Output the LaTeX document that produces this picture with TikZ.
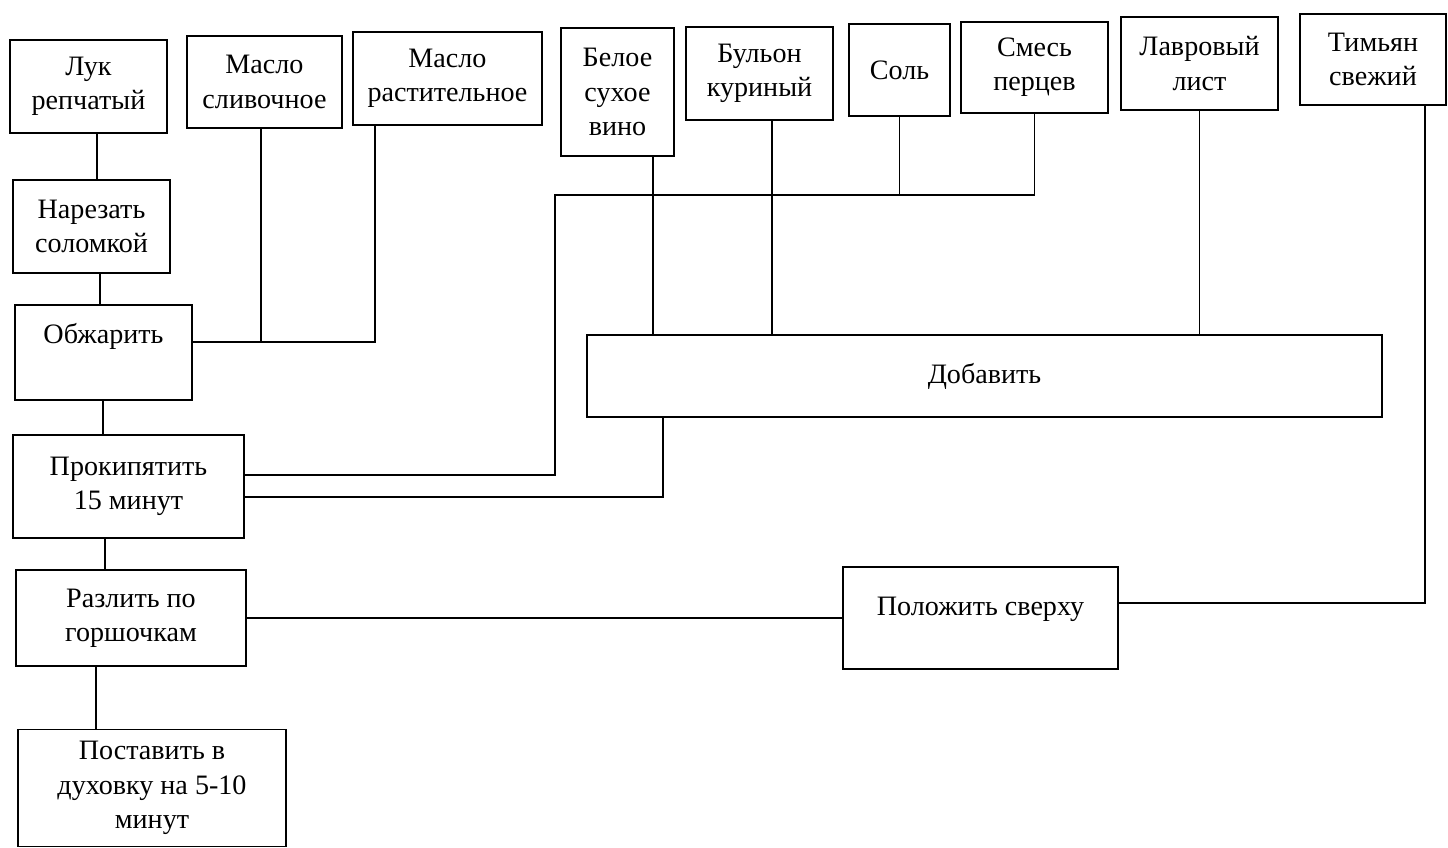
\documentclass[tikz,border=0pt]{standalone}
\usepackage{fontspec}
\setmainfont{Liberation Serif}
\begin{document}
\begin{tikzpicture}
[x=0.02cm, y=-0.02cm, line width=0.8pt, font=\fontsize{16}{19.5}\selectfont,
box/.style={rectangle, draw, align=center, inner sep=2pt}]

\useasboundingbox (0,0) rectangle (1448,848);

% ingredients
\node[box, minimum width=3.14cm, minimum height=1.86cm] (luk) at (88.5,86.5) {Лук\\репчатый};
\node[box, minimum width=3.10cm, minimum height=1.84cm] (maslo1) at (264.5,82) {Масло\\сливочное};
\node[box, minimum width=3.78cm, minimum height=1.86cm] (maslo2) at (447.5,78.5) {Масло\\растительное};
\node[box, minimum width=2.26cm, minimum height=2.56cm] (vino) at (617.5,92) {Белое\\сухое\\вино};
\node[box, minimum width=2.94cm, minimum height=1.86cm] (bulon) at (759.5,73.5) {Бульон\\куриный};
\node[box, minimum width=2.02cm, minimum height=1.84cm] (sol) at (899.5,70) {Соль};
\node[box, minimum width=2.94cm, minimum height=1.82cm] (smes) at (1034.5,67.5) {Смесь\\перцев};
\node[box, minimum width=3.14cm, minimum height=1.86cm] (lavr) at (1199.5,63.5) {Лавровый\\лист};
\node[box, minimum width=2.92cm, minimum height=1.82cm] (timyan) at (1373,59.5) {Тимьян\\свежий};

% steps
\node[box, minimum width=3.14cm, minimum height=1.86cm] (narezat) at (91.5,226.5) {Нарезать\\соломкой};
\node[box, minimum width=3.54cm, minimum height=1.90cm, text depth=0.75cm] (obzharit) at (103.5,352.5) {Обжарить};
\node[box, minimum width=4.62cm, minimum height=2.06cm] (prokip) at (128.5,486.5) {Прокипятить\\15 минут};
\node[box, minimum width=4.60cm, minimum height=1.92cm] (razlit) at (131,618) {Разлить по\\горшочкам};
\node[box, minimum width=5.36cm, minimum height=2.34cm] (postavit) at (152,788) {Поставить в\\духовку на 5-10\\минут};
\node[box, minimum width=15.9cm, minimum height=1.64cm] (dobavit) at (984.5,376) {Добавить};
\node[box, minimum width=5.50cm, minimum height=2.04cm, text depth=0.45cm] (polozhit) at (980.5,618) {Положить сверху};

\coordinate (xc1) at (97,0);
\coordinate (xc2) at (100,0);
\coordinate (xc3) at (103,0);
\coordinate (xc4) at (105,0);
\coordinate (xc5) at (96,0);
\coordinate (jm1) at (261,342);
\coordinate (jm2) at (375,342);
\coordinate (xv) at (653,0);
\coordinate (xb) at (772,0);
\coordinate (js) at (555,195);
\coordinate (jp1) at (555,475);
\coordinate (jp2) at (663,497);
\coordinate (jt) at (1425,603);

% main chain
\draw (luk.south -| xc1) -- (narezat.north -| xc1);
\draw (narezat.south -| xc2) -- (obzharit.north -| xc2);
\draw (obzharit.south -| xc3) -- (prokip.north -| xc3);
\draw (prokip.south -| xc4) -- (razlit.north -| xc4);
\draw (razlit.south -| xc5) -- (postavit.north -| xc5);

\draw (obzharit.east |- jm2) -- (jm2) -- (maslo2.south -| jm2);
\draw (maslo1.south -| jm1) -- (jm1);

\draw (vino.south -| xv) -- (dobavit.north -| xv);
\draw (bulon.south -| xb) -- (dobavit.north -| xb);
\draw (lavr.south) -- (lavr.south |- dobavit.north);

\draw (sol.south) -- (sol.south |- js);
\draw (smes.south) |- (js) -- (jp1) -- (prokip.east |- jp1);
\draw (dobavit.south -| jp2) -- (jp2) -- (prokip.east |- jp2);

\draw (timyan.south -| jt) -- (jt) -- (polozhit.east |- jt);
\draw (polozhit.west) -- (razlit.east);

\end{tikzpicture}
\end{document}
